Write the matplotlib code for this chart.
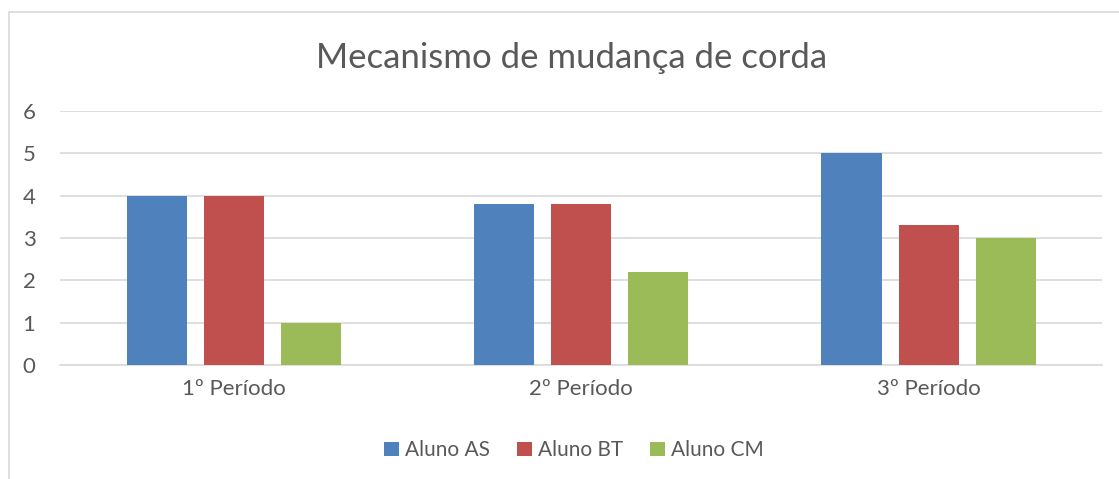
import numpy as np
import matplotlib.pyplot as plt
from matplotlib.patches import Rectangle

categories = ['1º Período', '2º Período', '3º Período']
series = ['Aluno AS', 'Aluno BT', 'Aluno CM']
values_as = [4, 3.8, 5]
values_bt = [4, 3.8, 3.3]
values_cm = [1, 2.2, 3]
colors = ['#4F81BD', '#C0504D', '#9BBB59']

plt.rcParams['font.family'] = ['Lato', 'DejaVu Sans']
txt = '#595959'

fig = plt.figure(figsize=(11.19, 4.79), dpi=100)
ax = fig.add_axes([0.054, 0.238, 0.931, 0.53])

x = np.arange(len(categories))
w = 0.173
step = 0.222
for i, (name, vals) in enumerate(zip(series, [values_as, values_bt, values_cm])):
    ax.bar(x + (i - 1) * step, vals, width=w, color=colors[i], label=name, zorder=3)

ax.set_xlim(-0.5, 2.5)
ax.set_ylim(0, 6)
ax.set_yticks(range(7))
ax.yaxis.grid(True, color='#D9D9D9', linewidth=1.2, zorder=0)
ax.set_xticks(x)
ax.set_xticklabels(categories)
ax.tick_params(axis='both', length=0, labelsize=16, colors=txt)
ax.tick_params(axis='x', pad=10)
ax.tick_params(axis='y', pad=18)
for s in ['top', 'right', 'left']:
    ax.spines[s].set_visible(False)
ax.spines['bottom'].set_color('#D9D9D9')
ax.spines['bottom'].set_linewidth(1.2)

fig.text(0.511, 0.878, 'Mecanismo de mudança de corda', ha='center', va='center',
         fontsize=25, color=txt)

ax.legend(loc='center', bbox_to_anchor=(0.513, 0.06), bbox_transform=fig.transFigure,
          ncol=3, frameon=False, fontsize=15, handlelength=0.7, handleheight=0.7,
          handletextpad=0.3, columnspacing=1.3, labelcolor=txt)

fig.patches.append(Rectangle((0.008, -0.05), 1.2, 1.025, transform=fig.transFigure,
                             fill=False, edgecolor='#D9D9D9', linewidth=1.2))

fig.savefig('out.png', dpi=100)
